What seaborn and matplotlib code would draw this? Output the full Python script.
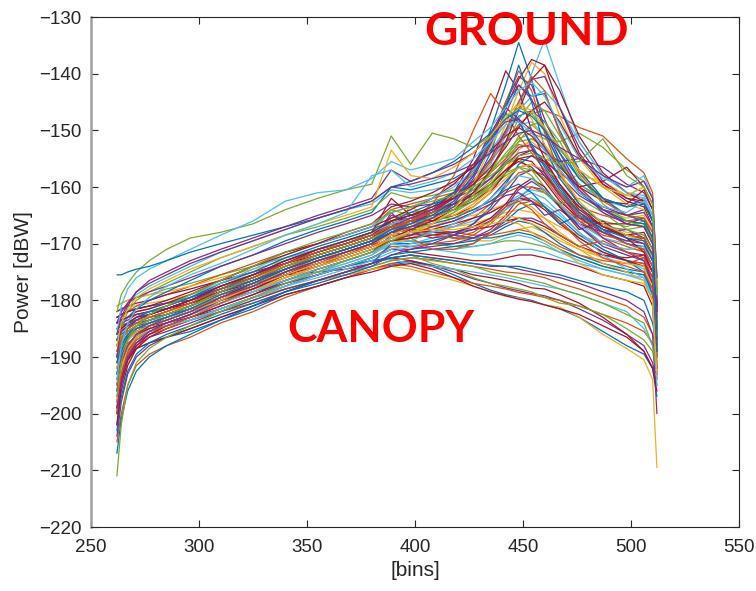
import matplotlib
matplotlib.use("Agg")
import matplotlib.pyplot as plt
import pandas as pd
import seaborn as sns

# Range bins at which every waveform is sampled
bins = [262, 264, 267, 271, 277, 285, 296, 310, 325, 340, 355, 368, 380, 389, 398,
        408, 418, 427, 435, 442, 448, 454, 460, 467, 476, 487, 498, 506, 510, 512]

# Waveforms with weak ground return (canopy dominated)
low_traces = [
    [-200, -194, -190.5, -188.5, -187.5, -186.5, -185.5, -183.5, -181.5, -179, -177.5, -176, -174.5, -173.8, -173.2, -174, -175.5, -177, -178.2, -179, -179.5, -180, -180.8, -181.5, -183, -185.5, -188, -189.5, -192, -197],
    [-188, -186.5, -185.5, -185, -184.5, -184, -183, -181.5, -179.5, -178, -176.5, -175.5, -174.5, -173.5, -173, -173.8, -175, -176.2, -177, -177.8, -178.3, -178.8, -179.2, -180, -181.5, -183.5, -186, -188, -191, -195],
    [-205, -200, -195, -191.5, -189.5, -188, -186.5, -184, -182, -179.5, -177.5, -176, -174.5, -173.5, -174, -175, -176, -177, -177.5, -178, -178.6, -179, -179.5, -180, -181, -182.5, -184, -185.5, -187.5, -191],
    [-183, -182.5, -182, -181.5, -181, -180.5, -180, -178.5, -177, -175.5, -175, -174.5, -173.5, -172.5, -173, -174, -174.5, -175.5, -176, -176.5, -177, -177.8, -178, -179, -180.5, -183, -186, -189, -192, -193],
    [-195, -191, -188.5, -186.5, -185.5, -184.5, -183.5, -181.5, -179.5, -177.5, -175.5, -174, -173, -172.5, -172, -173.5, -174.5, -176, -177, -177.5, -178, -178.5, -179.5, -180.5, -181, -182.5, -185, -187, -189, -193],
    [-199, -195, -191, -188.5, -186.5, -185, -183.5, -181.5, -179.5, -178, -176.5, -175.5, -174.5, -174, -174.5, -175.5, -176.5, -177.5, -178.5, -179.3, -179.6, -180.2, -180.8, -181.2, -183, -186, -188.5, -190.5, -194, -209.5],
    [-190, -188, -186.5, -185.5, -184.5, -183.5, -182, -180, -178, -176.5, -175, -174, -173, -172.8, -173.5, -174, -174.5, -175, -175.5, -176, -176.5, -177, -177.5, -178, -179, -180.5, -182, -185, -188, -190],
    [-192, -189, -187.5, -186.5, -185.5, -184.5, -183.5, -182, -180.5, -178.5, -176.5, -175, -174, -173, -172.5, -172.8, -173.5, -174, -174.5, -175, -175.2, -175.5, -176, -177, -178, -179.5, -181, -183, -186, -189],
    [-204, -198, -193, -190, -188, -186.5, -185, -183, -181, -178.5, -176.5, -175, -173.5, -172.5, -172, -172.5, -173, -173.5, -174, -174, -174.5, -175, -175.5, -176, -177, -178.5, -180, -182, -186, -200],
    [-185, -184.5, -184, -183.5, -183, -182.5, -181.5, -180, -178.5, -177, -175.5, -174, -173, -172.5, -172, -172.5, -173, -173.5, -173.8, -174, -174, -174.5, -175, -175.5, -176.5, -177.5, -178.5, -180, -184, -188],
    [-196, -193, -190.5, -188.5, -187.5, -186.5, -185, -183, -181, -179, -177.5, -176, -175, -174, -173.5, -174.5, -176, -177.5, -178.5, -179.2, -179.8, -180.2, -180.8, -181.5, -182.5, -184.5, -186.5, -189, -192, -196],
    [-189, -187.5, -186.5, -185.5, -185, -184.5, -183.5, -182, -180, -178, -176.5, -175, -174, -173, -172.5, -173, -173.5, -174, -175, -175.5, -176, -176.5, -177, -178, -179, -180.5, -182.5, -184, -188, -193],
]

# Waveforms whose ground return barely rises above the canopy
flat_traces = [
    [-193, -189, -186.5, -185, -184, -183, -181.5, -179.5, -177.5, -175.5, -173.5, -172, -170.5, -169, -168.5, -168.5, -169, -169.5, -169.5, -168.5, -167.5, -167, -168, -169.5, -171, -172.5, -173.5, -174, -177, -189],
    [-186, -185, -184.5, -184, -183.5, -183, -182, -180.5, -178.5, -176.5, -174.5, -173, -171.5, -170.5, -170.5, -171, -171.5, -172, -172, -171.5, -171, -171, -171.5, -172.5, -173.5, -174.5, -175.5, -176.5, -180, -192],
    [-198, -192, -188.5, -186.5, -185, -184, -182.5, -180.5, -178.5, -176.5, -174.5, -173, -171.5, -168.5, -169.5, -170, -170, -169.5, -168.5, -167, -166, -166.5, -168, -170, -172, -173.5, -174.5, -175, -179, -191],
    [-184, -183.5, -183, -182.5, -182, -181.5, -180.5, -179, -177, -175, -173, -171.5, -170, -168, -167.5, -167.5, -168, -168.5, -168.5, -168, -167.5, -168, -169, -170.5, -172, -173, -173.5, -172.5, -175, -186],
    [-202, -196, -191.5, -188.5, -186.5, -185, -183.5, -181.5, -179.5, -177.5, -175.5, -174, -172.5, -171, -171.5, -172, -172.5, -173, -173, -172.5, -172, -172, -172.5, -173, -174, -175.5, -176.5, -177.5, -181, -194],
    [-188, -186.5, -185.5, -184.5, -184, -183, -181.5, -179.5, -177.5, -175.5, -173.5, -172, -170.5, -166, -167.5, -168.5, -169, -169, -168, -166.5, -165.5, -165.5, -166.5, -168.5, -170.5, -172, -173, -173.5, -176, -187],
    [-191, -188.5, -186.5, -185.5, -184.5, -183.5, -182, -180, -178, -176, -174, -172.5, -171, -169.5, -169.5, -170, -170.5, -170.5, -170, -169.5, -169.5, -170, -170.5, -171.5, -172.5, -174, -175, -175.5, -179, -190],
    [-182, -181.5, -181, -181, -180.5, -180, -179, -177.5, -176, -174, -172, -170.5, -169, -167.5, -167, -167, -167, -166.5, -165.5, -164.5, -164, -164.5, -165.5, -167, -168.5, -170, -171, -171, -174, -186],
    [-196, -191.5, -188.5, -186.5, -185.5, -184.5, -183.5, -181.5, -179.5, -177, -175, -173.5, -172, -170, -170.5, -171, -171, -170.5, -170, -169, -168.5, -169, -170, -171.5, -173, -174.5, -175.5, -176, -179, -193],
    [-187, -186, -185, -184, -183.5, -182.5, -181, -179, -177, -175, -173, -171.5, -170, -168.5, -168, -168, -168.5, -169, -169, -168.5, -168, -168.5, -169.5, -171, -172.5, -174, -175, -175.5, -178, -188],
    [-199, -193, -189.5, -187.5, -186, -185, -183.5, -181.5, -179.5, -177.5, -175.5, -174, -172.5, -170.5, -170.5, -170, -169.5, -168.5, -166.5, -164, -162, -162, -163.5, -166, -169, -171.5, -173, -173.5, -177, -190],
    [-185, -184.5, -184, -183.5, -183, -182, -180.5, -178.5, -176.5, -174.5, -172.5, -171, -169.5, -167, -167.5, -168, -168, -167.5, -167, -166, -165.5, -166, -167, -168.5, -170.5, -172, -172.5, -172, -175, -185],
]

# Waveforms with a moderate ground return
mid_traces = [
    [-192, -189, -187, -185.5, -184.5, -183.5, -182, -179.5, -177.5, -175, -173.5, -172, -170.5, -169.5, -169, -168, -167, -165.5, -163, -160, -157.5, -157, -158.5, -162, -166, -169, -170.5, -171.5, -174, -185],
    [-185, -184, -183, -182, -181.5, -180.5, -179, -177, -175.5, -174, -172.5, -171, -169.5, -167, -166.5, -166, -165, -163, -160, -156, -153, -152, -154, -158, -163, -166.5, -168, -168.5, -171, -183],
    [-200, -194, -190, -187.5, -186, -184.5, -183, -181, -179, -177, -175.5, -174, -172.5, -171, -171, -170.5, -170, -169, -167.5, -165, -162, -160, -160.5, -163, -167, -170.5, -172, -173, -176, -188],
    [-181, -180.5, -180, -179.5, -179, -178, -177, -175.5, -174, -172.5, -171, -170, -168.5, -165.5, -164.5, -164, -163, -161.5, -159, -155, -151, -149, -151, -155.5, -160.5, -164, -166, -166.5, -170, -182],
    [-196, -192, -189, -187, -185.5, -184.5, -183.5, -181.5, -179.5, -177.5, -176, -174.5, -173, -171.5, -170.5, -169.5, -168.5, -167, -166, -164, -162.5, -162, -163, -165, -168, -171, -173, -174.5, -178, -190],
    [-187, -185.5, -184.5, -183.5, -183, -182, -180.5, -178.5, -176.5, -174, -172, -170.5, -169, -166, -165.5, -165, -164, -162.5, -160.5, -157.5, -155, -155.5, -158, -161.5, -165, -167.5, -168.5, -168, -171, -186],
    [-203, -197, -192.5, -189.5, -187.5, -186, -184.5, -182.5, -180.5, -178.5, -177, -175.5, -174, -172, -171.5, -171, -170.5, -170, -168, -166, -164, -163, -163.5, -165.5, -168.5, -171, -173, -175, -179, -192],
    [-184, -183, -182, -181, -180, -179, -177.5, -175.5, -173.5, -171.5, -170, -168.5, -167, -164, -163, -162, -161, -159.5, -157.5, -155, -152.5, -153, -156, -160, -163.5, -165, -166, -165.5, -169, -181],
    [-190, -188, -186.5, -185, -184, -183, -181.5, -179.5, -178, -176, -174.5, -173, -171.5, -170, -169, -168.5, -168, -167, -166, -165, -165.5, -166.5, -167.5, -169, -171, -173.5, -175, -176.5, -180, -191],
    [-198, -193, -189, -186.5, -184.5, -183, -181.5, -179.5, -177.5, -175.5, -173.5, -171.5, -170, -165, -166, -167, -166, -164.5, -162, -159, -156.5, -156, -157.5, -161, -164.5, -167, -168.5, -169, -172, -184],
    [-186, -185, -184, -183, -182.5, -181.5, -180, -178, -176, -173.5, -171.5, -170, -168.5, -167.5, -166, -164.5, -163, -161, -158.5, -156, -155, -157, -160, -163.5, -166, -167, -167.5, -167, -170, -180],
    [-193, -189.5, -187, -185.5, -184.5, -183.5, -182, -180.5, -178.5, -176.5, -175, -173.5, -172, -169, -168.5, -168, -167, -166, -164.5, -163, -161.5, -160.5, -161, -163.5, -166.5, -169, -170, -171, -174, -187],
    [-184, -183.5, -183, -182.5, -182, -181.5, -180.5, -179, -177.5, -175.5, -174, -172.5, -171, -169.5, -168.5, -167.5, -166.5, -165.5, -164.5, -163, -162, -162.5, -164, -166.5, -169, -171.5, -173, -174, -177, -189],
    [-207, -201, -196, -192.5, -190, -188, -186, -183.5, -181, -178.5, -176.5, -175, -173.5, -170, -170, -169.5, -168.5, -166.5, -163.5, -159.5, -156, -154.5, -156, -160, -164.5, -168, -170, -171, -174, -190],
    [-189, -187.5, -186, -185, -184, -183, -181.5, -179.5, -177.5, -175, -172.5, -171, -169.5, -168, -167, -166, -165, -164, -162.5, -161, -160, -160, -161, -163, -166, -168.5, -169.5, -169, -172, -186],
    [-181, -180.5, -180, -179.5, -179, -178.5, -177.5, -176, -174.5, -173, -171.5, -170, -168.5, -166, -166, -165.5, -165.5, -165, -164, -163, -162.5, -163.5, -165.5, -168, -170.5, -172.5, -173.5, -174, -178, -191],
    [-199, -194, -190.5, -188, -186.5, -185.5, -184, -182, -180, -178, -176.5, -175, -173.5, -172, -171, -170, -168.5, -166.5, -164, -161, -158, -157, -158, -161, -165, -169, -171.5, -173, -177, -193],
    [-186, -185, -184, -183, -182, -181, -179.5, -177.5, -175.5, -173.5, -171.5, -170, -168, -164, -165, -164.5, -163.5, -162, -160, -158, -156.5, -157, -158.5, -161, -164, -166, -167, -166, -169, -183],
    [-194, -190.5, -188, -186.5, -185.5, -184.5, -183.5, -181.5, -179.5, -177.5, -175.5, -174, -172.5, -171, -170, -169, -168, -167, -165.5, -163.5, -162, -161, -162, -164.5, -168, -172, -174.5, -176, -180, -195],
    [-182, -181.5, -181, -180.5, -180, -179, -178, -176.5, -175, -173.5, -172, -170.5, -169, -167, -166, -165, -164, -162, -159.5, -157, -155.5, -156.5, -159, -162.5, -165.5, -166.5, -166.5, -165.5, -168, -180],
]

# Waveforms with a sharp return from an upper canopy layer near bin 385
bump_traces = [
    [-190, -187, -185, -183.5, -182.5, -181.5, -180, -178, -176, -173.5, -171, -169.5, -168, -162, -165, -166, -165, -163.5, -161, -157.5, -154.5, -153.5, -155.5, -159.5, -164, -167, -168.5, -169, -172, -185],
    [-195, -190, -187, -185.5, -184.5, -183.5, -182, -180, -178, -175.5, -173, -171.5, -170, -164.5, -168, -169, -168.5, -167.5, -166, -163.5, -160.5, -159, -160.5, -163.5, -167, -170, -171.5, -172, -175, -188],
    [-184, -182, -180.5, -179, -177.5, -176, -174, -171.5, -169.5, -167.5, -165.5, -164, -163, -160.5, -161, -160.5, -159.5, -158, -155.5, -152, -149, -148.5, -151, -155, -159.5, -162.5, -163.5, -162.5, -165, -178],
    [-200, -193, -189, -186.5, -185, -184, -182.5, -180.5, -178.5, -176, -174, -172, -170.5, -166, -169, -171, -171, -170, -168, -165.5, -163, -162.5, -163.5, -166, -169.5, -172.5, -174, -175, -178, -192],
    [-187, -184.5, -183, -181.5, -180, -178.5, -176.5, -174, -172, -169.5, -167.5, -166, -164.5, -160, -160.5, -159.5, -158.5, -156.5, -154, -150.5, -147.5, -146.5, -148.5, -153, -158.5, -162, -163.5, -162, -165, -179],
    [-193, -189, -186.5, -185, -184, -183, -181.5, -179.5, -177.5, -175, -173, -171, -169.5, -167, -163.5, -165.5, -165, -163, -160.5, -157, -153.5, -151.5, -152.5, -156, -160.5, -164, -165.5, -165, -168, -182],
    [-190, -185, -182, -180, -178.5, -177, -175, -172.5, -170.5, -168.5, -167, -165.5, -164, -161, -162, -161.5, -160.5, -159, -157, -154.5, -152, -151.5, -153, -156, -159.5, -162, -163.5, -163, -166, -180],
    [-184, -182, -180.5, -179.5, -178.5, -177.5, -176, -174, -172, -170, -168, -166.5, -165, -163, -163.5, -163, -162, -160.5, -158.5, -156, -154, -153.5, -155, -158, -161.5, -164, -165, -164, -167, -181],
]

# Waveforms whose return decays slowly after the ground peak
tail_traces = [
    [-189, -186.5, -185, -184, -183, -182, -180.5, -178, -176, -173.5, -171.5, -170, -168.5, -166.5, -165.5, -164, -162, -159, -155.5, -152, -149, -147, -146.5, -147.5, -149.5, -151, -155, -157.5, -161, -176],
    [-193, -189, -186.5, -185, -184, -183, -181.5, -179, -177, -174.5, -172.5, -171, -169.5, -167.5, -166.5, -165, -163, -160.5, -157.5, -154, -151.5, -150.5, -151.5, -152, -150.5, -153, -157, -159, -162, -177],
    [-185, -184, -183.5, -182.5, -182, -181, -179.5, -177.5, -175.5, -173, -171, -169.5, -168, -166.5, -165.5, -164.5, -163, -161, -158.5, -155.5, -153, -152.5, -154, -155.5, -155, -156.5, -159.5, -161, -164, -180],
    [-198, -192, -188.5, -186.5, -185, -184, -182.5, -180.5, -178.5, -176, -174, -172.5, -171, -169, -168, -167, -165.5, -163.5, -161, -158.5, -156.5, -156, -157, -158.5, -158, -159, -161.5, -162, -165, -181],
    [-187, -185.5, -184.5, -183.5, -182.5, -181.5, -180, -178, -176, -173.5, -171.5, -170, -168.5, -166, -165, -164, -163, -161.5, -159.5, -157, -155, -154.5, -155.5, -157.5, -160, -159, -156.5, -160, -163, -179],
]

# Waveforms with several small returns after the ground
tangle_traces = [
    [-191, -188, -186, -185, -184, -183, -181.5, -179.5, -177.5, -175.5, -173.5, -172, -170.5, -168, -168.5, -167, -166, -164.5, -163, -161.5, -161, -162.5, -165, -164, -166.5, -168, -167.5, -169, -172, -186],
    [-183, -182.5, -182, -181.5, -181, -180.5, -179.5, -178, -176.5, -174.5, -172.5, -171, -169.5, -168.5, -167, -166.5, -165.5, -164, -162.5, -160.5, -159.5, -161, -163.5, -166.5, -165, -167.5, -170, -170.5, -173, -184],
    [-202, -195, -190.5, -188, -186, -184.5, -183, -181, -179, -176.5, -174.5, -173, -171.5, -169.5, -169, -168.5, -168, -167, -165.5, -163, -160, -158.5, -160, -163.5, -167.5, -166, -169, -171.5, -175, -189],
    [-188, -186.5, -185.5, -184.5, -183.5, -182.5, -181, -179, -177, -174.5, -172, -170.5, -169, -167, -167.5, -168.5, -169, -168, -166, -163.5, -162.5, -164, -166.5, -168.5, -170.5, -169.5, -171.5, -172.5, -176, -190],
    [-195, -190.5, -188, -186, -185, -184, -182.5, -180.5, -178.5, -176.5, -174.5, -173, -171.5, -170, -169.5, -168, -166.5, -164.5, -162, -159.5, -158, -158.5, -160.5, -163, -166.5, -170, -171, -170.5, -173, -186],
    [-186, -185, -184.5, -183.5, -183, -182, -181, -179, -177, -175, -173, -171.5, -170, -168.5, -168, -167.5, -167.5, -167, -166.5, -166, -166.5, -168, -169.5, -171, -173.5, -175.5, -176.5, -177, -180, -193],
    [-190, -187.5, -186, -185, -184, -183, -181.5, -179.5, -177.5, -175, -173, -171.5, -170, -166.5, -167.5, -166.5, -164.5, -162.5, -160, -157.5, -156.5, -158, -161, -163, -162, -164.5, -167.5, -168.5, -171, -185],
]

# Waveforms with a strong ground peak
peak_traces = [
    [-190, -187, -185, -183.5, -182.5, -181.5, -180, -178, -175.5, -173, -171, -169.5, -168, -166, -165, -163.5, -161, -157, -150, -142, -134.5, -141, -150, -156, -161, -164, -166, -166.5, -169, -182],
    [-187, -185, -184, -183, -182, -181, -179.5, -177, -175, -172.5, -171, -169.5, -168, -166.5, -165.5, -164, -162, -159.5, -156, -151, -146, -140, -134, -142, -152, -158, -161, -162, -166, -180],
    [-195, -191, -188, -186, -184.5, -183.5, -182, -179.5, -177, -174.5, -172.5, -171, -169.5, -167.5, -166, -164, -161, -155, -147, -139.5, -143, -150, -155, -159.5, -163.5, -167, -169, -170, -173, -187],
    [-183, -182.5, -182, -181.5, -181, -180, -178.5, -176.5, -174, -171.5, -170, -168.5, -167, -165.5, -164, -162, -159.5, -156, -151.5, -146, -141, -137.5, -138.5, -146, -154, -159.5, -162.5, -163.5, -167, -181],
    [-197, -193, -189.5, -187, -185.5, -184.5, -183, -180.5, -178, -175.5, -173.5, -172, -170, -168, -166, -163, -158, -150, -143.5, -147, -151, -154, -157, -161, -165, -168, -170, -171, -174, -188],
    [-192, -189, -187, -185.5, -184.5, -183.5, -182, -179.5, -177.5, -175, -173, -171.5, -170, -168.5, -167, -165.5, -163.5, -160, -155, -149, -143, -138, -140, -147.5, -155, -160, -163, -164, -167.5, -183],
    [-188, -186.5, -185.5, -184.5, -183.5, -182.5, -181, -178.5, -176.5, -174, -172, -170.5, -169, -167, -166, -164.5, -162, -158, -152, -145, -140.5, -142, -148, -154, -160, -164, -166.5, -167, -170, -184],
    [-211, -202, -195, -191, -188.5, -186.5, -184.5, -182, -179.5, -177, -175, -173, -171.5, -169.5, -168, -166.5, -164.5, -161.5, -157.5, -152.5, -148, -145, -146.5, -151, -157, -162, -165, -166, -169.5, -185],
    [-186, -185, -184, -183, -182, -181, -179.5, -177, -175, -172.5, -170.5, -169, -167.5, -166, -164.5, -163, -161, -157, -151, -145.5, -142, -144, -143.5, -150, -157, -162, -165, -166, -169, -183],
    [-194, -190.5, -188, -186, -185, -184, -182.5, -180, -178, -175.5, -173.5, -172, -170.5, -169, -167.5, -166, -164, -161, -157, -152, -146.5, -141, -138.5, -143, -151, -157.5, -161, -162.5, -166, -182],
    [-189, -187, -185.5, -184.5, -183.5, -182.5, -181, -178.5, -176.5, -174, -172, -170.5, -169, -167.5, -166, -164, -161.5, -157.5, -151.5, -145, -139.5, -143, -150.5, -157.5, -163, -166.5, -168.5, -169, -172, -186],
    [-185, -184, -183, -182, -181.5, -180.5, -179, -177, -174.5, -172, -170, -168.5, -167, -164.5, -163.5, -162, -160, -157, -153.5, -150, -146.5, -144, -143, -146, -152, -158, -161, -161.5, -165, -179],
    [-199, -194, -190, -187.5, -185.5, -184, -182.5, -180, -177.5, -175, -173, -171.5, -170, -168, -166.5, -164.5, -161.5, -156.5, -150.5, -146, -148, -153, -157.5, -161.5, -165.5, -168, -169.5, -170, -173, -187],
    [-184, -183.5, -183, -182, -181.5, -180.5, -179, -176.5, -174, -172, -170, -168, -166.5, -163.5, -162.5, -161, -159, -156.5, -153.5, -151, -149.5, -151, -153.5, -156.5, -160, -162.5, -163, -160.5, -164, -178],
    [-191, -188, -186, -184.5, -183.5, -182.5, -181, -178.5, -176.5, -174.5, -172.5, -171, -169.5, -168, -167, -165.5, -163.5, -160, -154, -146, -138.5, -145, -153, -158.5, -163, -166.5, -168.5, -169.5, -173, -189],
    [-187, -185.5, -184.5, -183.5, -182.5, -181.5, -180, -177.5, -175.5, -173.5, -171.5, -170, -168.5, -167, -165.5, -164, -162, -159, -155, -150, -145, -141, -140.5, -146, -153, -159, -162, -163, -166, -181],
    [-195, -191, -188, -186, -184.5, -183.5, -182, -180, -177.5, -175.5, -173.5, -172, -170.5, -169, -168, -166.5, -164, -159.5, -153, -148, -145, -148, -152.5, -157.5, -162.5, -166.5, -168.5, -169.5, -172.5, -186],
    [-188, -186.5, -185.5, -184.5, -183.5, -182.5, -181, -178.5, -176, -174, -172, -170.5, -169, -167.5, -166.5, -165.5, -164, -162, -159.5, -156, -152, -149, -148.5, -152, -158, -163, -166, -167, -170, -184],
    [-190, -187, -185, -184, -183, -182, -180.5, -178, -176, -173.5, -171.5, -170, -168.5, -167, -166, -164.5, -162.5, -159.5, -155.5, -150.5, -145, -140.5, -143, -150.5, -157.5, -162.5, -165, -165.5, -168, -183],
    [-196, -191, -188, -186, -184.5, -183.5, -182, -179.5, -177.5, -175, -173, -171.5, -170, -168, -167, -165.5, -163, -158.5, -152.5, -147, -142, -144.5, -149.5, -155, -160.5, -164.5, -166.5, -167, -170, -185],
    [-186, -185, -184, -183, -182.5, -181.5, -180, -177.5, -175.5, -173, -171, -169.5, -168, -166, -165, -163.5, -162, -159.5, -156.5, -153, -149.5, -146.5, -145, -148.5, -154.5, -159.5, -162, -162.5, -166, -181],
    [-193, -189, -186.5, -185, -184, -183, -181.5, -179, -177, -174.5, -172.5, -171, -169.5, -167.5, -166.5, -165, -162.5, -158, -152, -147, -148.5, -152.5, -156.5, -160.5, -164.5, -167.5, -169, -169.5, -172, -186],
]

# Waveforms with a dense, high canopy layer
high_traces = [
    [-182, -179, -177, -175, -173, -171, -169, -168, -166.5, -164, -162, -160.5, -159.5, -151, -156, -150.5, -151.5, -153, -151, -148, -146, -147, -150, -153.5, -157, -160, -161.5, -160, -163, -177],
    [-186, -181, -178, -176, -174.5, -173, -171, -168.5, -166, -162.5, -161, -160.5, -158.5, -155.5, -157, -156, -155, -152, -149.5, -146, -143, -141.5, -144, -149, -155, -158.5, -160, -158, -162, -176],
    [-175.5, -175.5, -175, -174.5, -174, -173, -171.5, -170, -168.5, -167, -165.5, -164, -162.5, -160, -159, -157.5, -155.5, -153, -150.5, -148, -146.5, -147.5, -150, -154, -158.5, -162, -163.5, -163, -166, -181],
    [-190, -184, -181, -178.5, -176.5, -175, -173, -171, -169, -167, -165, -163.5, -162, -157, -159, -157.5, -156, -154, -151, -148.5, -148, -150, -153, -157, -161, -163.5, -165, -164.5, -167, -182],
    [-188, -184, -181.5, -179.5, -178, -176.5, -174.5, -172.5, -170.5, -168.5, -166.5, -165, -163.5, -153.5, -158, -158.5, -156.5, -154, -151, -147.5, -145.5, -146.5, -149.5, -153, -157, -160, -161.5, -160, -163, -178],
    [-194, -188, -184, -181.5, -179.5, -177.5, -175.5, -173.5, -171, -168.5, -166.5, -164.5, -158, -157, -160, -159, -157.5, -155, -152, -149, -148.5, -150.5, -153.5, -157, -161, -163.5, -164.5, -162.5, -165, -179],
    [-186, -183, -180.5, -178.5, -177, -175.5, -173.5, -171.5, -169.5, -167.5, -165.5, -164, -162.5, -160, -159.5, -158.5, -157.5, -156, -154, -152, -150.5, -150, -151, -153, -155, -158, -160, -159, -162, -176],
    [-197, -191, -187, -184.5, -182.5, -181, -179, -176.5, -174, -171.5, -169.5, -168, -166.5, -164.5, -163.5, -162.5, -161.5, -160, -158, -156, -154.5, -154, -155, -156, -155.5, -151.5, -158, -160, -163, -179],
]

# Index into the default line colour order for each trace
low_colors = [0, 3, 1, 6, 4, 2, 5, 1, 3, 0, 6, 4]
flat_colors = [2, 5, 0, 1, 6, 3, 4, 2, 5, 0, 1, 6]
mid_colors = [1, 2, 3, 4, 5, 6, 0, 1, 2, 3, 4, 5, 6, 0, 1, 2, 3, 4, 5, 6]
bump_colors = [6, 3, 5, 1, 0, 2, 4, 3]
tail_colors = [1, 4, 3, 2, 6]
tangle_colors = [3, 0, 6, 1, 5, 2, 4]
peak_colors = [0, 5, 6, 6, 1, 2, 3, 4, 0, 6, 1, 5, 3, 6, 0, 3, 2, 4, 1, 3, 6, 0]
high_colors = [4, 5, 0, 3, 2, 5, 3, 4]

line_order = ["#0072BD", "#D95319", "#EDB120", "#7E2F8E",
              "#77AC30", "#4DBEEE", "#A2142F"]

rows = []
palette = {}
k = 0
for traces, cols in [(low_traces, low_colors), (flat_traces, flat_colors),
                     (mid_traces, mid_colors), (bump_traces, bump_colors),
                     (tail_traces, tail_colors), (tangle_traces, tangle_colors),
                     (peak_traces, peak_colors), (high_traces, high_colors)]:
    for vals, c in zip(traces, cols):
        name = f"wf{k:03d}"
        palette[name] = line_order[c]
        for b, v in zip(bins, vals):
            rows.append((name, b, v))
        k += 1
df = pd.DataFrame(rows, columns=["trace", "bin", "power"])

sns.set_theme(style="white")
plt.rcParams["font.family"] = ["Liberation Sans", "DejaVu Sans"]

fig = plt.figure(figsize=(7.56, 5.91), dpi=100)
ax = fig.add_axes([91 / 756, 1 - 527 / 591, 648 / 756, 510 / 591])

sns.lineplot(data=df, x="bin", y="power", hue="trace", palette=palette,
             estimator=None, sort=False, legend=False, linewidth=0.9, ax=ax)

ax.set_xlim(250, 550)
ax.set_ylim(-220, -130)
ax.set_xticks(range(250, 551, 50))
ax.set_yticks(range(-220, -129, 10))
ax.tick_params(direction="in", length=5, width=0.8, colors="#262626",
               labelsize=13.5, top=True, right=True, bottom=True, left=True)
ax.tick_params(axis="x", pad=9)
ax.tick_params(axis="y", pad=7)
ax.set_xlabel("[bins]", fontsize=15, color="#262626", labelpad=3)
ax.set_ylabel("Power [dBW]", fontsize=15, color="#262626", labelpad=4)

for side in ["top", "right", "bottom"]:
    ax.spines[side].set_color("#262626")
    ax.spines[side].set_linewidth(0.8)
ax.spines["left"].set_color("#a0a0a0")
ax.spines["left"].set_linewidth(1.8)

fig.text(526 / 756, 1 - 45 / 591, "GROUND", color="#ff0000", fontsize=33,
         fontweight="bold", family=["Lato", "DejaVu Sans"],
         ha="center", va="baseline")
fig.text(381 / 756, 1 - 342 / 591, "CANOPY", color="#ff0000", fontsize=32,
         fontweight="bold", family=["Lato", "DejaVu Sans"],
         ha="center", va="baseline")

fig.savefig("out.png", dpi=100)
